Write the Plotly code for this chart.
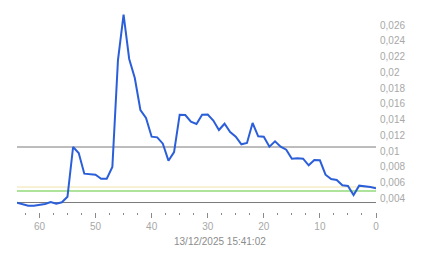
import plotly.graph_objects as go

# x positions (units back in time), reversed axis
x_vals = list(range(64, -1, -1))
y_vals = [
    0.00292, 0.00269, 0.00254, 0.00254, 0.00262, 0.00275, 0.00301, 0.00279, 0.00297, 0.00368,
    0.0100, 0.00924, 0.00661, 0.00657, 0.00648, 0.00597, 0.00597, 0.00746, 0.02106, 0.02682,
    0.02119, 0.01877, 0.01470, 0.01369, 0.01131, 0.01123, 0.01042, 0.00826, 0.00936, 0.01411,
    0.01407, 0.01322, 0.01292, 0.01411, 0.01413, 0.01337, 0.01216, 0.01296, 0.01191, 0.01131,
    0.01034, 0.01051, 0.01305, 0.01136, 0.01131, 0.01004, 0.01072, 0.01004, 0.00966, 0.00851,
    0.00856, 0.00851, 0.00767, 0.00835, 0.00831, 0.00648, 0.00593, 0.00580, 0.00513, 0.00504,
    0.00390, 0.00508, 0.00504, 0.00491, 0.00475,
]

y_tickvals = [0.004, 0.006, 0.008, 0.010, 0.012, 0.014, 0.016, 0.018, 0.020, 0.022, 0.024, 0.026]
y_ticktext = ["0,004", "0,006", "0,008", "0,01", "0,012", "0,014", "0,016", "0,018", "0,02", "0,022", "0,024", "0,026"]
x_tickvals = [60, 50, 40, 30, 20, 10, 0]
x_ticktext = ["60", "50", "40", "30", "20", "10", "0"]

ref_gray_upper = 0.0100
ref_gray_lower = 0.00294
ref_yellow = 0.00491
ref_green = 0.00440

title_text = "13/12/2025 15:41:02"

fig = go.Figure()
fig.add_trace(go.Scatter(
    x=x_vals, y=y_vals, mode="lines",
    line=dict(color="#2b5fd9", width=2),
    hoverinfo="skip",
))

fig.add_hline(y=ref_gray_upper, line=dict(color="#7a7a7a", width=1), layer="below")
fig.add_hline(y=ref_gray_lower, line=dict(color="#7a7a7a", width=1), layer="below")
fig.add_hline(y=ref_yellow, line=dict(color="#eee4a8", width=1), layer="below")
fig.add_hline(y=ref_green, line=dict(color="#ade39a", width=2), layer="below")

fig.add_annotation(
    text=title_text, xref="paper", yref="paper",
    x=(220 - 17) / (376 - 17), y=-0.145, xanchor="center", yanchor="middle",
    showarrow=False, font=dict(family="Liberation Sans, Arial", size=10, color="#8c8c8c"),
)

fig.update_layout(
    width=443, height=258,
    margin=dict(l=17, r=67, t=10, b=46),
    paper_bgcolor="white", plot_bgcolor="white",
    showlegend=False,
    font=dict(family="Liberation Sans, Arial", size=10, color="#a8a8a8"),
)
fig.update_xaxes(
    range=[64, 0], tickmode="array", tickvals=x_tickvals, ticktext=x_ticktext,
    showgrid=False, zeroline=False, showline=False,
    ticks="outside", ticklen=5, tickcolor="#8a8a8a", tickwidth=1,
    minor=dict(dtick=2.5, tick0=0, ticks="outside", ticklen=2, tickcolor="#8a8a8a", tickwidth=1, showgrid=False),
    tickfont=dict(size=10, color="#a8a8a8"),
    fixedrange=True,
)
fig.update_yaxes(
    range=[0.0017345, 0.027421], side="right",
    tickmode="array", tickvals=y_tickvals, ticktext=y_ticktext,
    showgrid=False, zeroline=False, showline=False, ticks="",
    tickfont=dict(size=10, color="#a8a8a8"),
    ticklabelstandoff=3, ticklabelshift=4,
    fixedrange=True,
)

fig.write_html("out.html")
